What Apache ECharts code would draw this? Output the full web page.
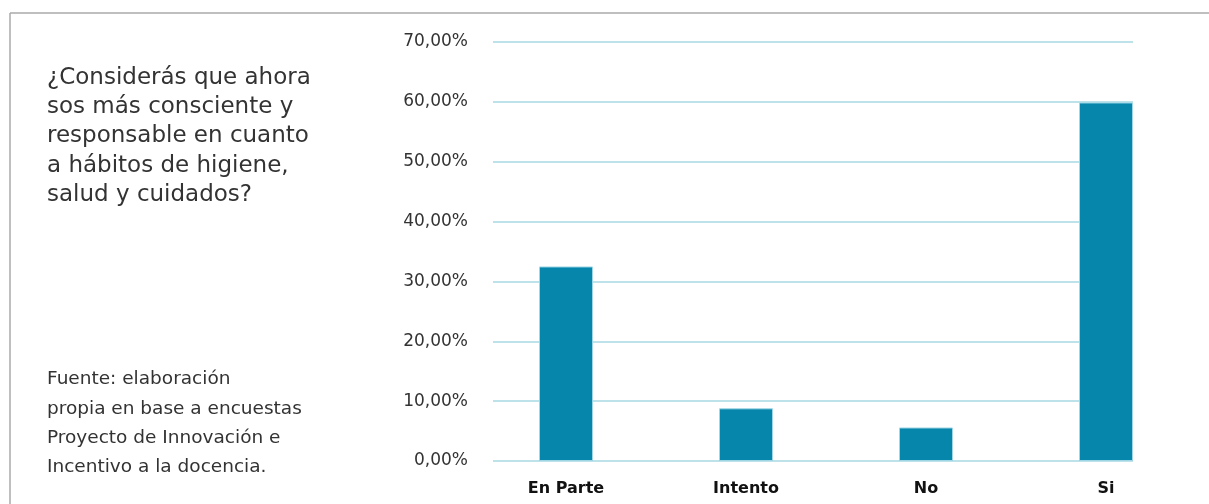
<!DOCTYPE html>
<html><head><meta charset="utf-8">
<script src="https://cdn.jsdelivr.net/npm/echarts@6/dist/echarts.min.js"></script>
<style>html,body{margin:0;padding:0;background:#fff}#c{width:1209px;height:504px}</style>
</head><body><div id="c"></div>
<script>
const categories = ['En Parte', 'Intento', 'No', 'Si'];
const values = [32.5, 8.8, 5.6, 59.9];
const yTicks = [0, 10, 20, 30, 40, 50, 60, 70];
const question = '¿Considerás que ahora\nsos más consciente y\nresponsable en cuanto\na hábitos de higiene,\nsalud y cuidados?';
const source = 'Fuente: elaboración\npropia en base a encuestas\nProyecto de Innovación e\nIncentivo a la docencia.';

const FONT = 'DejaVu Sans';
const chart = echarts.init(document.getElementById('c'));
chart.setOption({
  backgroundColor: '#fff',
  animation: false,
  title: [
    { text: question, left: 42, top: 58,
      textStyle: { fontFamily: FONT, fontSize: 23, fontWeight: 'normal', color: '#333', lineHeight: 29.3 } },
    { text: source, left: 42, top: 360,
      textStyle: { fontFamily: FONT, fontSize: 18.5, fontWeight: 'normal', color: '#333', lineHeight: 29.3 } }
  ],
  graphic: [
    { type: 'line', shape: { x1: 10, y1: 13, x2: 1209, y2: 13 }, style: { stroke: '#aaa', lineWidth: 1.5 } },
    { type: 'line', shape: { x1: 10, y1: 13, x2: 10, y2: 504 }, style: { stroke: '#aaa', lineWidth: 1.5 } }
  ],
  grid: [
    { left: 493, right: 76, top: 42, height: 419 },
    { left: 476, width: 720, top: 42, height: 419 }
  ],
  xAxis: [
    { type: 'category', gridIndex: 0, data: categories, show: false },
    { type: 'category', gridIndex: 1, data: categories,
      axisLine: { show: false }, axisTick: { show: false },
      axisLabel: { margin: 20, fontFamily: FONT, fontSize: 16, fontWeight: 'bold', color: '#111' } }
  ],
  yAxis: [
    { type: 'value', gridIndex: 0, min: 0, max: 70, interval: 10,
      axisLine: { show: false }, axisTick: { show: false },
      splitLine: { lineStyle: { color: '#a9d8e2', width: 1.5 } },
      axisLabel: { margin: 25, fontFamily: FONT, fontSize: 17, color: '#333',
        formatter: v => yTicks.includes(v) ? v.toFixed(2).replace('.', ',') + '%' : '' } },
    { type: 'value', gridIndex: 1, min: 0, max: 70, interval: 10, show: false, splitLine: { show: false } }
  ],
  series: [{
    type: 'bar', xAxisIndex: 1, yAxisIndex: 1, data: values, barWidth: 54,
    itemStyle: { color: '#0686ab', borderColor: '#9fd6e6', borderWidth: 1 }
  }]
});
</script></body></html>
